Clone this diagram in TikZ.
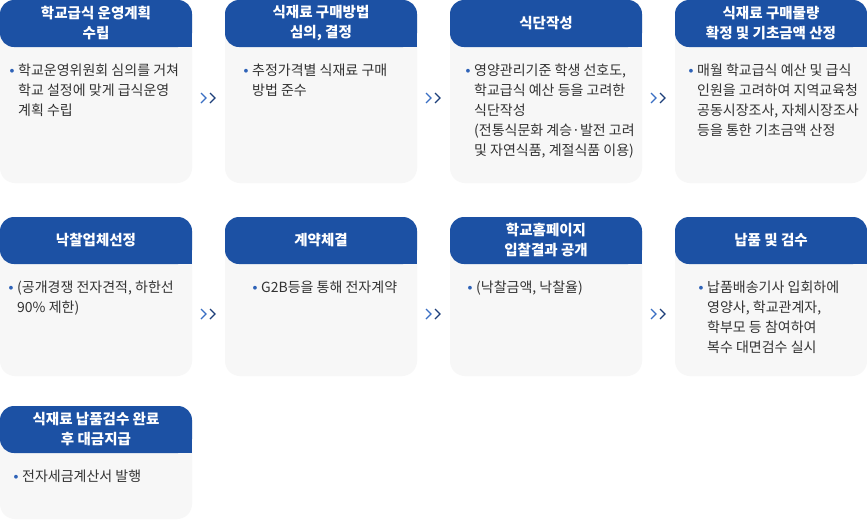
\documentclass[tikz,border=0pt]{standalone}
\usepackage{fontspec}
\setmainfont{Noto Sans CJK KR}
\newfontfamily\symfont{DejaVu Sans}
\usepackage{xcolor}
\definecolor{hdr}{HTML}{1C51A4}
\definecolor{bodyfill}{HTML}{F7F7F7}
\definecolor{txt}{HTML}{333333}
\definecolor{blt}{HTML}{2F63B8}
\definecolor{chevA}{HTML}{3A6FC4}
\definecolor{chevB}{HTML}{1E3F7A}
\newcommand{\dotitem}{\llap{\raisebox{3pt}{\textcolor{blt}{\symfont\fontsize{5}{5}\selectfont ●}}\hspace{4pt}}}

\begin{document}
\begin{tikzpicture}[x=1pt,y=-1pt]
\tikzstyle{body} = [rectangle,rounded corners=15pt,fill=bodyfill,minimum width=192pt,inner sep=0pt]
\tikzstyle{head} = [rectangle,rounded corners=14pt,fill=hdr,text=white,font=\fontsize{14.5}{20}\selectfont\bfseries,align=center,minimum width=192pt,minimum height=47pt,inner sep=0pt]
\tikzstyle{desc} = [anchor=north west,inner sep=0pt,text=txt,font=\fontsize{14}{20}\selectfont,align=left]
\tikzstyle{chev1} = [draw=chevA,line width=1.3pt]
\tikzstyle{chev2} = [draw=chevB,line width=1.3pt]
\useasboundingbox[fill=white] (0,0) rectangle (867,520);
% row 1
\node[body,minimum height=183pt] (b1) at (96,91.5) {};
\node[body,minimum height=183pt] (b2) at (321,91.5) {};
\node[body,minimum height=183pt] (b3) at (546,91.5) {};
\node[body,minimum height=183pt] (b4) at (771,91.5) {};
% row 2
\node[body,minimum height=159pt] (b5) at (96,296.5) {};
\node[body,minimum height=159pt] (b6) at (321,296.5) {};
\node[body,minimum height=159pt] (b7) at (546,296.5) {};
\node[body,minimum height=159pt] (b8) at (771,296.5) {};
% row 3
\node[body,minimum height=113pt] (b9) at (96,462.5) {};
% headers
\node[head] (h1) at (96,23.5) {학교급식 운영계획\\수립};
\node[head] (h2) at (321,23.5) {식재료 구매방법\\심의, 결정};
\node[head] (h3) at (546,23.5) {식단작성};
\node[head] (h4) at (771,23.5) {식재료 구매물량\\확정 및 기초금액 산정};
\node[head] (h5) at (96,240.5) {낙찰업체선정};
\node[head] (h6) at (321,240.5) {계약체결};
\node[head] (h7) at (546,240.5) {학교홈페이지\\입찰결과 공개};
\node[head] (h8) at (771,240.5) {납품 및 검수};
\node[head] (h9) at (96,429.5) {식재료 납품검수 완료\\후 대금지급};
\foreach \h in {h1,h2,h3,h4,h5,h6,h7,h8,h9}
  \fill[hdr] (\h.south east) rectangle ([shift={(-15,-15)}]\h.south east);
% descriptions
\node[desc] (t1) at (18,64) {\dotitem 학교운영위원회 심의를 거쳐\\학교 설정에 맞게 급식운영\\계획 수립};
\node[desc] (t2) at (252,64) {\dotitem 추정가격별 식재료 구매\\방법 준수};
\node[desc] (t3) at (474,64) {\dotitem 영양관리기준 학생 선호도,\\학교급식 예산 등을 고려한\\식단작성\\(전통식문화 계승·발전 고려\\및 자연식품, 계절식품 이용)};
\node[desc] (t4) at (697,64) {\dotitem 매월 학교급식 예산 및 급식\\인원을 고려하여 지역교육청\\공동시장조사, 자체시장조사\\등을 통한 기초금액 산정};
\node[desc] (t5) at (17,281) {\dotitem (공개경쟁 전자견적, 하한선\\90\% 제한)};
\node[desc] (t6) at (261,281) {\dotitem G2B등을 통해 전자계약};
\node[desc] (t7) at (476,281) {\dotitem (낙찰금액, 낙찰율)};
\node[desc] (t8) at (707,281) {\dotitem 납품배송기사 입회하에\\영양사, 학교관계자,\\학부모 등 참여하여\\복수 대면검수 실시};
\node[desc] (t9) at (22,470) {\dotitem 전자세금계산서 발행};
% arrows between steps
\coordinate (a1) at (208,98);
\coordinate (a2) at (433,98);
\coordinate (a3) at (658,98);
\coordinate (a4) at (208,314);
\coordinate (a5) at (433,314);
\coordinate (a6) at (658,314);
\foreach \a in {a1,a2,a3,a4,a5,a6} {
  \draw[chev1] ([shift={(-7,-5)}]\a) -- ([shift={(-2,0)}]\a) -- ([shift={(-7,5)}]\a);
  \draw[chev2] ([shift={(2,-5)}]\a) -- ([shift={(7,0)}]\a) -- ([shift={(2,5)}]\a);
}
\end{tikzpicture}
\end{document}
